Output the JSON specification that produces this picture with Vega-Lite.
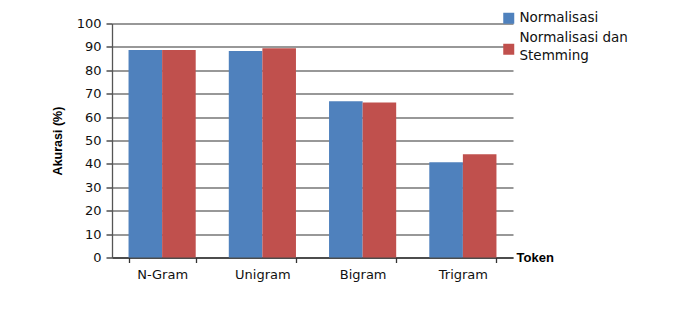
{
  "$schema": "https://vega.github.io/schema/vega-lite/v6.json",
  "autosize": {"type": "none"},
  "padding": {"left": 112, "top": 23.5, "right": 176, "bottom": 64.5},
  "width": 401,
  "height": 234,
  "background": "white",
  "data": {
    "values": [
      {"token": "N-Gram", "seri": "Normalisasi", "akurasi": 88.7},
      {"token": "N-Gram", "seri": "Normalisasi dan Stemming", "akurasi": 88.7},
      {"token": "Unigram", "seri": "Normalisasi", "akurasi": 88.2},
      {"token": "Unigram", "seri": "Normalisasi dan Stemming", "akurasi": 89.4},
      {"token": "Bigram", "seri": "Normalisasi", "akurasi": 66.8},
      {"token": "Bigram", "seri": "Normalisasi dan Stemming", "akurasi": 66.2},
      {"token": "Trigram", "seri": "Normalisasi", "akurasi": 40.7},
      {"token": "Trigram", "seri": "Normalisasi dan Stemming", "akurasi": 44.1}
    ]
  },
  "mark": {"type": "bar"},
  "encoding": {
    "x": {
      "field": "token", "type": "nominal", "sort": null,
      "scale": {"paddingInner": 0.33, "paddingOuter": 0.165},
      "axis": {
        "title": "Token", "titleFont": "Liberation Sans", "titleFontSize": 13, "titleFontWeight": "bold", "titleColor": "#000",
        "titleX": 404, "titleY": 0, "titleAlign": "left", "titleBaseline": "middle", "titleAnchor": null,
        "labelAngle": 0, "labelFont": "DejaVu Sans", "labelFontSize": 13, "labelColor": "#111",
        "labelPadding": 6, "tickBand": "extent", "tickSize": 5, "tickColor": "#333", "domainColor": "#333", "domainWidth": 1.3, "tickWidth": 1.3,
        "grid": false
      }
    },
    "xOffset": {"field": "seri", "type": "nominal", "sort": null, "scale": {"paddingInner": 0, "paddingOuter": 0}},
    "y": {
      "field": "akurasi", "type": "quantitative",
      "scale": {"domain": [0, 100], "nice": false},
      "axis": {
        "title": "Akurasi (%)", "titleFont": "Liberation Sans", "titleFontSize": 12.5, "titleFontWeight": "bold", "titleColor": "#000", "titlePadding": 12,
        "values": [0, 10, 20, 30, 40, 50, 60, 70, 80, 90, 100],
        "labelFont": "DejaVu Sans", "labelFontSize": 13, "labelColor": "#111", "labelPadding": 5,
        "tickSize": 6, "tickColor": "#333", "tickWidth": 1.3, "domainColor": "#555", "domainWidth": 1.3,
        "grid": true, "gridColor": "#333", "gridWidth": 1.2
      }
    },
    "color": {
      "field": "seri", "type": "nominal", "sort": null,
      "scale": {"range": ["#4F81BD", "#C0504D"]},
      "legend": {
        "title": null, "orient": "none", "legendX": 390, "legendY": -12,
        "symbolType": "square", "symbolSize": 121, "symbolStrokeWidth": 0, "symbolOpacity": 1,
        "labelFont": "DejaVu Sans", "labelFontSize": 13.5, "labelColor": "#111", "labelOffset": 4, "labelLimit": 300,
        "rowPadding": 5,
        "labelExpr": "datum.label == 'Normalisasi dan Stemming' ? ['Normalisasi dan', 'Stemming'] : datum.label",
        "encode": {
          "labels": {
            "update": {
              "lineHeight": {"value": 18},
              "dy": {"signal": "datum.value == 'Normalisasi dan Stemming' ? -11 : 0"}
            }
          }
        }
      }
    }
  },
  "config": {"view": {"stroke": null}}
}
